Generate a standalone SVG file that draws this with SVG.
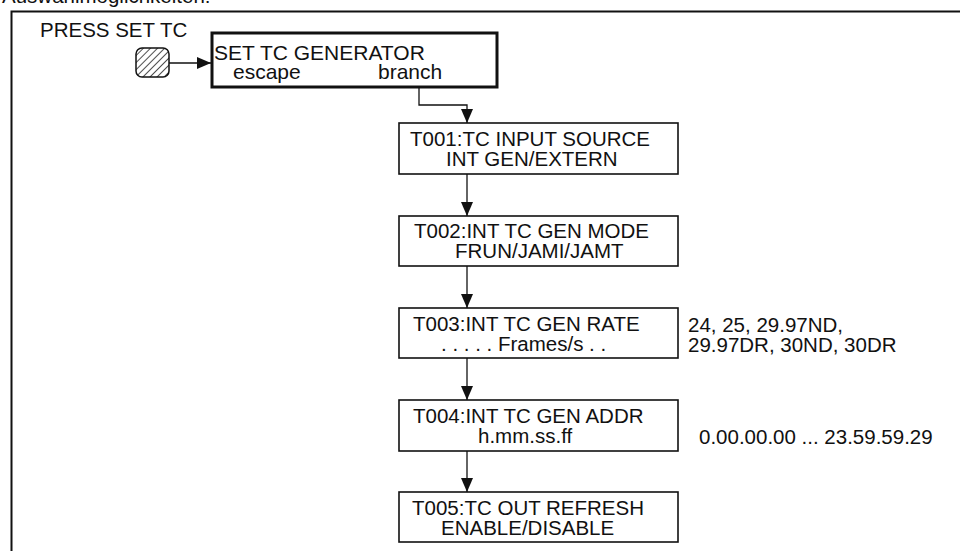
<svg xmlns="http://www.w3.org/2000/svg" width="960" height="551" viewBox="0 0 960 551">
  <defs>
    <marker id="arrow" viewBox="0 0 14 12" refX="14" refY="6" markerWidth="14" markerHeight="12" markerUnits="userSpaceOnUse" orient="auto">
      <path d="M0,0 L14,6 L0,12 Z" fill="#111"/>
    </marker>
    <pattern id="hatch" width="5" height="5" patternUnits="userSpaceOnUse" patternTransform="rotate(45)">
      <rect width="5" height="5" fill="#fff"/>
      <line x1="0" y1="0" x2="0" y2="5" stroke="#222" stroke-width="1.6"/>
    </pattern>
    <style>
      text { font-family: "Liberation Sans", Arial, sans-serif; font-size: 20.5px; fill: #111; }
      .big { font-size: 21px; }
      .box { fill: #fff; stroke: #111; stroke-width: 1.6; }
      .main { fill: #fff; stroke: #111; stroke-width: 3; }
      .conn { fill: none; stroke: #111; stroke-width: 1.3; marker-end: url(#arrow); }
      .frame { fill: none; stroke: #111; stroke-width: 2; }
    </style>
  </defs>
  <rect width="960" height="551" fill="#fff"/>

  <!-- heading, mostly above the top edge -->
  <text x="2" y="3">Auswahlmöglichkeiten:</text>

  <!-- outer frame -->
  <path class="frame" d="M11.5,551 V11.5 H960"/>

  <g id="press">
    <text x="40" y="37">PRESS SET TC</text>
    <rect x="136" y="48" width="33" height="29" rx="6" fill="url(#hatch)" stroke="#111" stroke-width="1.5"/>
  </g>

  <g id="set-tc-generator">
    <rect class="main" x="212" y="33" width="285" height="54"/>
    <text class="big" x="214" y="60">SET TC GENERATOR</text>
    <text class="big" x="233" y="79">escape</text>
    <text class="big" x="378" y="79">branch</text>
  </g>

  <g id="t001">
    <rect class="box" x="399" y="123" width="279" height="51"/>
    <text x="410" y="146">T001:TC INPUT SOURCE</text>
    <text x="446" y="166">INT GEN/EXTERN</text>
  </g>

  <g id="t002">
    <rect class="box" x="399" y="216" width="279" height="50"/>
    <text x="414" y="238">T002:INT TC GEN MODE</text>
    <text x="455" y="258">FRUN/JAMI/JAMT</text>
  </g>

  <g id="t003">
    <rect class="box" x="399" y="308" width="279" height="50"/>
    <text x="413" y="331">T003:INT TC GEN RATE</text>
    <text x="441" y="351">. . . . . Frames/s  . .</text>
    <text x="688" y="332">24, 25, 29.97ND,</text>
    <text x="688" y="352">29.97DR, 30ND, 30DR</text>
  </g>

  <g id="t004">
    <rect class="box" x="399" y="400" width="279" height="51"/>
    <text x="413" y="423">T004:INT TC GEN ADDR</text>
    <text x="478" y="443">h.mm.ss.ff</text>
    <text x="699" y="444">0.00.00.00 ... 23.59.59.29</text>
  </g>

  <g id="t005">
    <rect class="box" x="399" y="492" width="279" height="50"/>
    <text x="412" y="515">T005:TC OUT REFRESH</text>
    <text x="441" y="535">ENABLE/DISABLE</text>
  </g>

  <g id="connectors">
    <path class="conn" d="M169,63 H211"/>
    <path class="conn" d="M419,87 V105 H467 V123"/>
    <path class="conn" d="M467,174 V216"/>
    <path class="conn" d="M467,266 V308"/>
    <path class="conn" d="M467,358 V400"/>
    <path class="conn" d="M467,451 V492"/>
  </g>
</svg>
